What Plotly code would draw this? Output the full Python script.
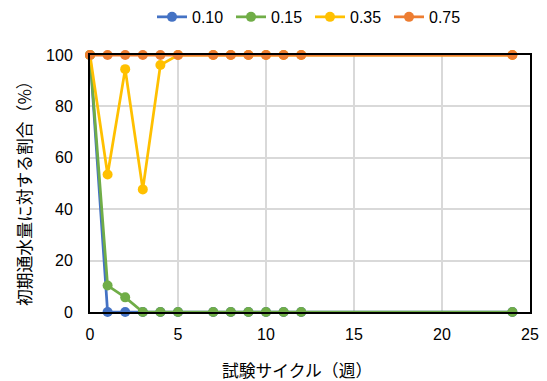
import plotly.graph_objects as go

weeks = [0, 1, 2, 3, 4, 5, 7, 8, 9, 10, 11, 12, 24]
s010 = [100, 0, 0, 0, 0, 0, 0, 0, 0, 0, 0, 0, 0]
s015 = [100, 10.3, 5.7, 0, 0, 0, 0, 0, 0, 0, 0, 0, 0]
s035 = [100, 53.5, 94.5, 47.7, 96.1, 100, 100, 100, 100, 100, 100, 100, 100]
s075 = [100, 100, 100, 100, 100, 100, 100, 100, 100, 100, 100, 100, 100]
names = ["0.10", "0.15", "0.35", "0.75"]
colors = ["#4472C4", "#70AD47", "#FFC000", "#ED7D31"]
x_title = "試験サイクル（週）"
y_title = "初期通水量に対する割合（%）"

font = "Noto Sans CJK JP"
tickfont = dict(family="Liberation Sans", size=16, color="#000000")
fig = go.Figure()
for name, ys, c in zip(names, [s010, s015, s035, s075], colors):
    fig.add_trace(go.Scatter(x=weeks, y=ys, name=name, mode="lines+markers",
                             line=dict(color=c, width=2.75),
                             marker=dict(color=c, size=10), cliponaxis=False))

# page body has an 8px margin, so the figure is sized/offset to compensate
fig.update_layout(
    width=539, height=373,
    margin=dict(l=82, r=17, t=47, b=69, autoexpand=False),
    paper_bgcolor="white", plot_bgcolor="white",
    font=dict(family=font, size=16, color="#000000"),
    legend=dict(orientation="h", x=0.5, xanchor="center", y=0.976, yanchor="middle",
                yref="container", font=dict(family="Liberation Sans", size=16),
                entrywidth=34, entrywidthmode="pixels", itemwidth=30,
                tracegroupgap=0),
    showlegend=True,
)
fig.add_annotation(text=x_title, xref="paper", yref="paper", x=0.4705, y=0,
                   xanchor="center", yanchor="middle", yshift=-58, showarrow=False,
                   font=dict(family=font, size=16.8, color="#000000"))
fig.add_annotation(text=y_title, xref="paper", yref="paper", x=0, y=0.4786,
                   xanchor="center", yanchor="middle", xshift=-66, showarrow=False,
                   textangle=-90, font=dict(family=font, size=16.8, color="#000000"))
fig.update_xaxes(range=[0, 25], dtick=5, showgrid=True, gridcolor="#D9D9D9", gridwidth=1.5,
                 showline=True, linecolor="black", linewidth=2, mirror=True,
                 zeroline=False, ticks="", ticklen=0, automargin=False,
                 tickfont=tickfont, ticklabelstandoff=7)
fig.update_yaxes(range=[0, 100], dtick=20, showgrid=True, gridcolor="#D9D9D9", gridwidth=1.5,
                 showline=True, linecolor="black", linewidth=2, mirror=True,
                 zeroline=False, ticks="", ticklen=0, automargin=False,
                 tickfont=tickfont, ticklabelstandoff=12)
fig.write_html("out.html")
